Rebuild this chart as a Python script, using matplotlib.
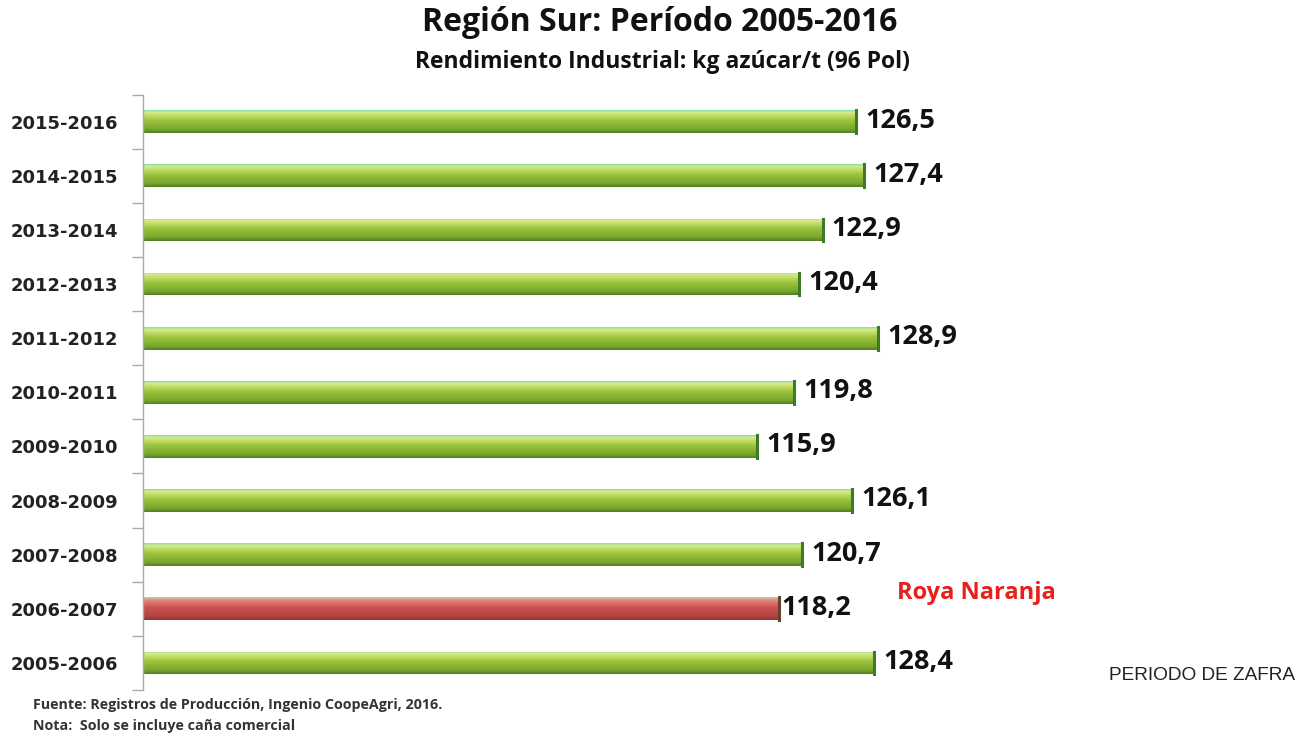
import numpy as np
import matplotlib
matplotlib.use("Agg")
import matplotlib.pyplot as plt
from matplotlib.colors import LinearSegmentedColormap

periods = ["2005-2006", "2006-2007", "2007-2008", "2008-2009", "2009-2010",
           "2010-2011", "2011-2012", "2012-2013", "2013-2014", "2014-2015",
           "2015-2016"]
values = [128.4, 118.2, 120.7, 126.1, 115.9, 119.8, 128.9, 120.4, 122.9, 127.4, 126.5]
highlight = ["2006-2007"]
value_labels = ["128,4", "118,2", "120,7", "126,1", "115,9", "119,8", "128,9",
                "120,4", "122,9", "127,4", "126,5"]

title = "Región Sur: Período 2005-2016"
subtitle = "Rendimiento Industrial: kg azúcar/t (96 Pol)"

fig = plt.figure(figsize=(13.11, 7.34), dpi=100)
ax = fig.add_axes([0.109, 0.060, 0.64, 0.811])

y = np.arange(len(periods))
bar_h = 0.42
xmin = 50
green_cmap = LinearSegmentedColormap.from_list(
    "g", [(0.0, "#4d7f22"), (0.15, "#76a42c"), (0.55, "#9cc43c"),
          (0.8, "#c9e070"), (0.9, "#d8ec8a"), (1.0, "#7fe0a8")])
red_cmap = LinearSegmentedColormap.from_list(
    "r", [(0.0, "#8a3a30"), (0.15, "#b04440"), (0.55, "#cc5250"),
          (0.8, "#e07a70"), (0.9, "#e89088"), (1.0, "#9fe0c0")])

bars = ax.barh(y, [v - xmin for v in values], left=xmin, height=bar_h,
               color="none", edgecolor="none")
grad = np.linspace(0, 1, 100).reshape(-1, 1)
for p, b, v in zip(periods, bars, values):
    cmap = red_cmap if p in highlight else green_cmap
    x0, y0 = b.get_x(), b.get_y()
    w, h = b.get_width(), b.get_height()
    im = ax.imshow(grad, cmap=cmap, aspect="auto", origin="lower",
                   extent=(x0, x0 + w, y0, y0 + h), zorder=2)
    im.set_clip_path(b)
    edge = "#6a4030" if p in highlight else "#3f7a2a"
    ax.plot([x0 + w, x0 + w], [y0, y0 + h], color=edge, lw=2.2, zorder=3)

for p, yi, v, lab in zip(periods, y, values, value_labels):
    off = 0.25 if p in highlight else 1.0
    ax.text(v + off, yi + 0.02, lab, va="center", ha="left",
            fontsize=19.5, fontweight="bold", family="Open Sans", color="#111111")

ax.set_xlim(xmin, 140)
ax.set_ylim(-0.5, len(periods) - 0.5)
ax.set_yticks(y)
ax.set_yticklabels(periods, fontsize=13, fontweight="bold", family="DejaVu Sans",
                   color="#222222")
ax.set_yticks(np.arange(-0.5, len(periods), 1.0), minor=True)
ax.tick_params(axis="y", which="major", length=0, pad=18)
ax.tick_params(axis="y", which="minor", length=8, color="#aaaaaa", width=1)
ax.set_xticks([])
for s in ["top", "right", "bottom"]:
    ax.spines[s].set_visible(False)
ax.spines["left"].set_color("#aaaaaa")
ax.spines["left"].set_linewidth(1)

fig.text(0.503, 0.97, title, ha="center", va="center", fontsize=23,
         fontweight="bold", family="Open Sans", color="#111111")
fig.text(0.505, 0.915, subtitle, ha="center", va="center", fontsize=16.5,
         fontweight="bold", family="Open Sans", color="#111111")
fig.text(976 / 1311, 1 - 593 / 734, "Roya Naranja", ha="center", va="center",
         fontsize=17, fontweight="bold", family="Open Sans", color="#e8201c")
fig.text(1202 / 1311, 1 - 676 / 734, "PERIODO DE ZAFRA", ha="center", va="center",
         fontsize=13.7, family="Liberation Sans", color="#222222")
fig.text(33 / 1311, 1 - 705 / 734, "Fuente: Registros de Producción, Ingenio CoopeAgri, 2016.",
         ha="left", va="center", fontsize=10.3, fontweight="bold",
         family="Open Sans", color="#333333")
fig.text(33 / 1311, 1 - 726 / 734, "Nota:  Solo se incluye caña comercial",
         ha="left", va="center", fontsize=10.3, fontweight="bold",
         family="Open Sans", color="#333333")

fig.savefig("out.png", dpi=100, facecolor="white")
